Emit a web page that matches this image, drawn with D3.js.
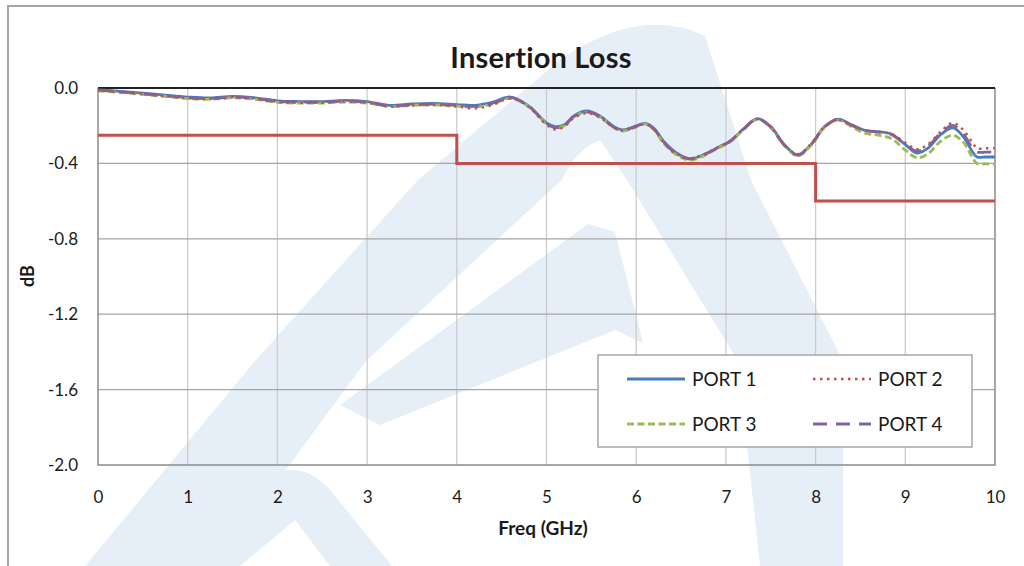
<!DOCTYPE html>
<html><head><meta charset="utf-8">
<script src="https://cdn.jsdelivr.net/npm/d3@7"></script>
<style>body{margin:0;background:#fff;}svg{display:block;font-family:Lato,"Open Sans",sans-serif;font-variant-ligatures:none;font-feature-settings:"liga" 0,"clig" 0;}</style>
</head><body><svg id="c" width="1024" height="566"></svg>
<script>
const freq = [0,0.25,0.5,0.75,1.0,1.25,1.5,1.75,2.0,2.25,2.5,2.75,3.0,3.25,3.5,3.75,4.0,4.2,4.4,4.6,4.8,5.0,5.1,5.2,5.3,5.45,5.6,5.75,5.85,5.95,6.1,6.2,6.3,6.45,6.6,6.75,6.9,7.05,7.2,7.35,7.5,7.65,7.8,7.95,8.1,8.25,8.4,8.55,8.7,8.85,9.0,9.13,9.25,9.4,9.53,9.65,9.75,9.8,9.9,10.0];
const port1 = [-0.010,-0.018,-0.027,-0.038,-0.048,-0.053,-0.044,-0.052,-0.068,-0.072,-0.072,-0.066,-0.072,-0.092,-0.085,-0.082,-0.088,-0.092,-0.075,-0.048,-0.095,-0.185,-0.205,-0.195,-0.150,-0.122,-0.150,-0.205,-0.222,-0.210,-0.188,-0.215,-0.280,-0.345,-0.377,-0.355,-0.318,-0.280,-0.215,-0.162,-0.205,-0.300,-0.355,-0.300,-0.205,-0.165,-0.195,-0.225,-0.232,-0.245,-0.300,-0.345,-0.320,-0.245,-0.212,-0.260,-0.340,-0.366,-0.366,-0.366];
const port2 = [-0.012,-0.022,-0.032,-0.043,-0.054,-0.058,-0.050,-0.057,-0.074,-0.078,-0.078,-0.072,-0.078,-0.098,-0.092,-0.090,-0.098,-0.108,-0.090,-0.055,-0.100,-0.195,-0.220,-0.205,-0.160,-0.133,-0.158,-0.210,-0.226,-0.214,-0.192,-0.220,-0.285,-0.350,-0.372,-0.352,-0.318,-0.280,-0.215,-0.165,-0.208,-0.300,-0.350,-0.295,-0.205,-0.168,-0.198,-0.225,-0.232,-0.245,-0.290,-0.325,-0.300,-0.230,-0.185,-0.225,-0.290,-0.320,-0.320,-0.320];
const port3 = [-0.015,-0.024,-0.034,-0.045,-0.056,-0.060,-0.052,-0.060,-0.076,-0.080,-0.080,-0.075,-0.080,-0.098,-0.092,-0.090,-0.096,-0.100,-0.085,-0.055,-0.098,-0.190,-0.212,-0.200,-0.155,-0.128,-0.155,-0.210,-0.228,-0.215,-0.192,-0.222,-0.290,-0.355,-0.382,-0.360,-0.322,-0.285,-0.220,-0.166,-0.210,-0.305,-0.360,-0.305,-0.210,-0.170,-0.205,-0.240,-0.250,-0.270,-0.330,-0.370,-0.350,-0.280,-0.250,-0.290,-0.370,-0.400,-0.403,-0.405];
const port4 = [-0.011,-0.020,-0.030,-0.041,-0.052,-0.056,-0.048,-0.055,-0.071,-0.075,-0.075,-0.069,-0.075,-0.095,-0.089,-0.086,-0.092,-0.097,-0.080,-0.050,-0.096,-0.188,-0.210,-0.198,-0.153,-0.126,-0.152,-0.207,-0.224,-0.212,-0.190,-0.218,-0.283,-0.350,-0.375,-0.355,-0.320,-0.282,-0.217,-0.164,-0.207,-0.302,-0.356,-0.300,-0.207,-0.166,-0.197,-0.226,-0.234,-0.248,-0.300,-0.335,-0.310,-0.237,-0.198,-0.245,-0.320,-0.340,-0.340,-0.340];
const specFreq = [0,4,4,8,8,10];
const specLoss = [-0.25,-0.25,-0.4,-0.4,-0.6,-0.6];
const xTicks = [0,1,2,3,4,5,6,7,8,9,10];
const yTicks = [0.0,-0.4,-0.8,-1.2,-1.6,-2.0];
const seriesNames = ["PORT 1","PORT 2","PORT 3","PORT 4"];
const seriesColors = ["#4A7EBB","#C0504D","#9BBB59","#8064A2"];
const seriesDash = [null,"2.5,4.5","7,3.5","14,9"];
const seriesData = [port1,port2,port3,port4];

const svg = d3.select("#c");
// faint background watermark
const wm = svg.append("g").attr("fill","#e6eef7");
const wmShapes = [
 "M85,566 L255,361 L418,180 L560,60 Q640,5 705,36 L751,180 L843,361 L843,566 L760,566 L738,361 L627,180 L600,140 Q575,150 562,180 L366,361 L215,566 Z",
 "M340,405 L588,224 L615,232 L643,343 L615,330 L380,425 Z",
 "M157,566 L250,490 Q294,450 330,490 L392,566 L330,566 L295,520 L240,566 Z"
];
wmShapes.forEach(d=>wm.append("path").attr("d",d));

// outer frame
svg.append("path").attr("d","M8,566V6H1024").attr("fill","none").attr("stroke","#a6a6a6").attr("stroke-width",2);

const m = {l:98,t:88,r:995,b:465};
const x = d3.scaleLinear().domain([0,10]).range([m.l,m.r]);
const y = d3.scaleLinear().domain([-2,0]).range([m.b,m.t]);

// grid
svg.append("g").selectAll("line").data(xTicks.slice(1,-1)).join("line")
 .attr("x1",d=>x(d)).attr("x2",d=>x(d)).attr("y1",m.t).attr("y2",m.b)
 .attr("stroke","#cccccc").attr("stroke-width",1.3);
svg.append("g").selectAll("line").data(yTicks.slice(1,-1)).join("line")
 .attr("x1",m.l).attr("x2",m.r).attr("y1",d=>y(d)).attr("y2",d=>y(d))
 .attr("stroke","#a6a6a6").attr("stroke-width",1.3);
// plot border
svg.append("path").attr("d",`M${m.r},${m.t}V${m.b}H${m.l}V${m.t}`).attr("fill","none").attr("stroke","#8c8c8c").attr("stroke-width",1.5);
svg.append("line").attr("x1",m.l).attr("x2",m.r).attr("y1",m.t).attr("y2",m.t).attr("stroke","#222").attr("stroke-width",2);

// axes labels via d3 axes
const ax = svg.append("g").attr("transform",`translate(0,${m.b})`)
 .call(d3.axisBottom(x).tickValues(xTicks).tickFormat(d3.format("d")).tickSize(0).tickPadding(26));
const ay = svg.append("g").attr("transform",`translate(${m.l},0)`)
 .call(d3.axisLeft(y).tickValues(yTicks).tickFormat(d3.format(".1f")).tickSize(0).tickPadding(20));
[ax,ay].forEach(a=>{a.select(".domain").remove();a.selectAll("text").attr("font-size",17).attr("fill","#1a1a1a").attr("font-family","Lato, sans-serif");});
ay.selectAll("text").text(d=>d===0?"0.0":d3.format(".1f")(d).replace("−","-"));

// spec line
const specLine = d3.line().x((d,i)=>x(specFreq[i])).y(d=>y(d));
svg.append("path").attr("d",specLine(specLoss)).attr("fill","none").attr("stroke","#C0504D").attr("stroke-width",3);

// series
const line = d3.line().x((d,i)=>x(freq[i])).y(d=>y(d)).curve(d3.curveCatmullRom.alpha(0.5));
const order=[0,2,3,1];
order.forEach(i=>{
 svg.append("path").attr("d",line(seriesData[i])).attr("fill","none")
  .attr("stroke",seriesColors[i]).attr("stroke-width",i===1?2.4:2.8)
  .attr("stroke-dasharray",seriesDash[i]);
});

// titles
svg.append("text").attr("x",541).attr("y",68).attr("text-anchor","middle").attr("font-size",29).attr("font-weight","bold").attr("letter-spacing","0.2px").attr("fill","#1a1a1a").text("Insertion Loss");
svg.append("text").attr("x",543).attr("y",535).attr("text-anchor","middle").attr("font-size",19).attr("font-weight","bold").attr("fill","#1a1a1a").text("Freq (GHz)");
svg.append("text").attr("transform","translate(34,276) rotate(-90)").attr("text-anchor","middle").attr("font-size",18).attr("font-weight","bold").attr("fill","#1a1a1a").text("dB");

// legend
const lg = svg.append("g");
lg.append("rect").attr("x",598).attr("y",355).attr("width",374).attr("height",92).attr("fill","#fff").attr("stroke","#a6a6a6").attr("stroke-width",1.5);
const lpos = [[627,379],[813,379],[627,424],[813,424]];
seriesNames.forEach((n,i)=>{
 const [lx,ly]=lpos[i];
 lg.append("line").attr("x1",lx).attr("x2",lx+58).attr("y1",ly).attr("y2",ly)
  .attr("stroke",seriesColors[i]).attr("stroke-width",i===1?2.4:2.8).attr("stroke-dasharray",seriesDash[i]);
 lg.append("text").attr("x",lx+65).attr("y",ly+7).attr("font-size",19).attr("fill","#1a1a1a").text(n);
});
</script></body></html>
